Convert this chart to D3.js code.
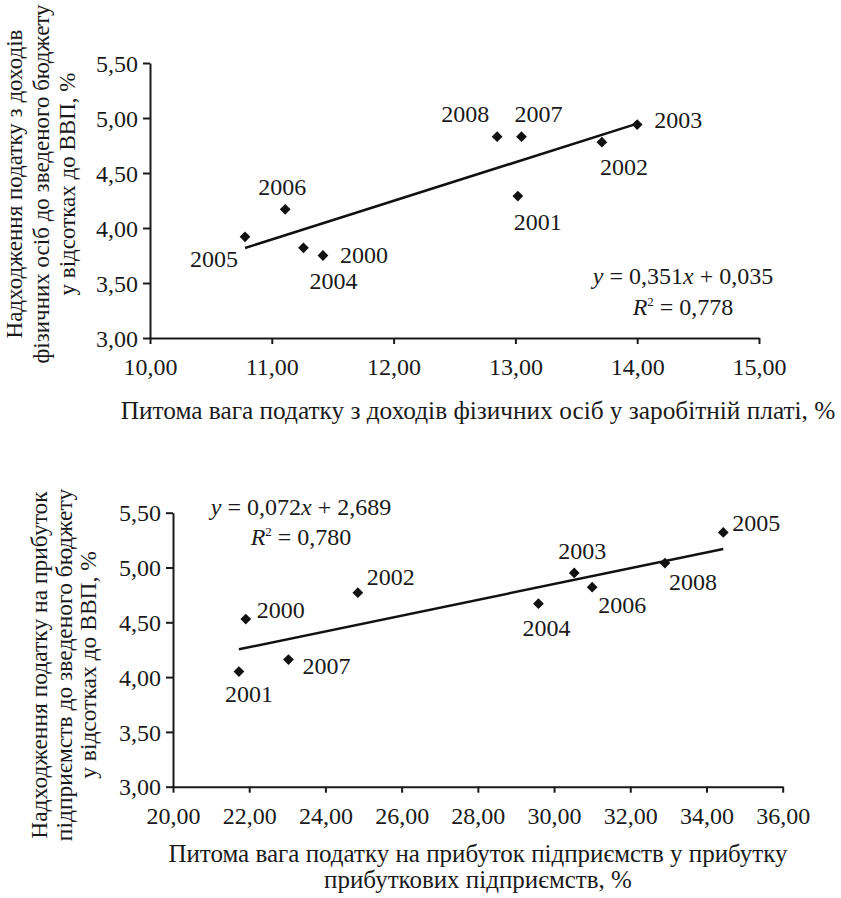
<!DOCTYPE html>
<html>
<head>
<meta charset="utf-8">
<script src="https://cdn.jsdelivr.net/npm/d3@7"></script>
<style>
  html, body { margin: 0; padding: 0; background: #fff; }
  svg { display: block; font-family: "Liberation Serif", "Times New Roman", serif; }
</style>
</head>
<body>
<svg id="chart" width="841" height="898"></svg>
<script>
// ---------- DATA ----------
// Chart 1: personal income tax
const years1 = ["2000", "2001", "2002", "2003", "2004", "2005", "2006", "2007", "2008"];
const x1 = [11.42, 13.02, 13.71, 14.00, 11.26, 10.78, 11.11, 13.05, 12.85];
const y1 = [3.75, 4.29, 4.78, 4.94, 3.82, 3.92, 4.17, 4.83, 4.83];
const xTicks1 = [10, 11, 12, 13, 14, 15];
const yTicks1 = [3.0, 3.5, 4.0, 4.5, 5.0, 5.5];
const trend1 = [0.351, 0.035]; // slope, intercept
const eq1 = ["0,351", "0,035", "0,778"];
const yTitle1 = ["Надходження податку з доходів", "фізичних осіб до зведеного бюджету", "у відсотках до ВВП, %"];
const xTitle1 = ["Питома вага податку з доходів фізичних осіб у заробітній платі, %"];

// Chart 2: enterprise profit tax
const years2 = ["2000", "2001", "2002", "2003", "2004", "2005", "2006", "2007", "2008"];
const x2 = [21.91, 21.73, 24.85, 30.53, 29.59, 34.44, 31.00, 23.03, 32.91];
const y2 = [4.53, 4.05, 4.77, 4.95, 4.67, 5.32, 4.82, 4.16, 5.04];
const xTicks2 = [20, 22, 24, 26, 28, 30, 32, 34, 36];
const yTicks2 = [3.0, 3.5, 4.0, 4.5, 5.0, 5.5];
const trend2 = [0.072, 2.689];
const eq2 = ["0,072", "2,689", "0,780"];
const yTitle2 = ["Надходження податку на прибуток", "підприємств до зведеного бюджету", "у відсотках до ВВП, %"];
const xTitle2 = ["Питома вага податку на прибуток підприємств у прибутку", "прибуткових підприємств, %"];

// ---------- LAYOUT (label placement, not data) ----------
// [anchor, dx, dy(baseline)]
const labelPos1 = [
  ["start", 17, 7], ["start", -4, 34], ["start", -2, 33], ["start", 17, 3],
  ["start", 6, 41], ["end", -7, 30], ["middle", -3, -14], ["start", -7, -15], ["end", -8, -15]
];
const labelPos2 = [
  ["start", 11, -1], ["middle", 10, 30], ["start", 9, -8], ["middle", 8, -14],
  ["middle", 8, 32], ["start", 9, -1], ["start", 6, 26], ["start", 14, 14], ["start", 4, 27]
];

const svg = d3.select("#chart");
const fmt = v => d3.format(".2f")(v).replace(".", ",");

function drawPanel(cfg) {
  const g = svg.append("g");
  const x = d3.scaleLinear().domain(cfg.xDomain).range([cfg.left, cfg.right]);
  const y = d3.scaleLinear().domain(cfg.yDomain).range([cfg.bottom, cfg.top]);

  // axes
  const yAxis = d3.axisLeft(y).tickValues(cfg.yTicks).tickFormat(fmt).tickSize(7).tickSizeOuter(0).tickPadding(5);
  const xAxis = d3.axisBottom(x).tickValues(cfg.xTicks).tickFormat(fmt).tickSize(6).tickSizeOuter(0);

  const gy = g.append("g").attr("transform", `translate(${cfg.left},0)`).call(yAxis);
  const gx = g.append("g").attr("transform", `translate(0,${cfg.bottom})`).call(xAxis);
  [gx, gy].forEach(a => {
    a.attr("font-family", null).attr("font-size", null);
    a.select(".domain").attr("stroke", "#1a1a1a").attr("stroke-width", 2);
    a.selectAll(".tick line").attr("stroke", "#1a1a1a").attr("stroke-width", 2);
    a.selectAll("text").attr("fill", "#1a1a1a").style("font-size", "24px");
  });
  gx.selectAll("text").attr("y", 37).attr("dy", null);
  gy.selectAll("text").attr("dy", "0.34em");

  // trend line
  const xs = d3.extent(cfg.xs);
  const f = v => cfg.trend[0] * v + cfg.trend[1];
  g.append("line")
    .attr("x1", x(xs[0])).attr("y1", y(f(xs[0])))
    .attr("x2", x(xs[1])).attr("y2", y(f(xs[1])))
    .attr("stroke", "#111").attr("stroke-width", 2.5);

  // points
  const sym = d3.symbol(d3.symbolSquare, 58);
  const pts = cfg.xs.map((v, i) => ({ x: v, y: cfg.ys[i], label: cfg.years[i], pos: cfg.labelPos[i] }));
  g.selectAll("path.pt").data(pts).enter().append("path")
    .attr("class", "pt")
    .attr("d", sym)
    .attr("transform", d => `translate(${x(d.x)},${y(d.y)}) rotate(45)`)
    .attr("fill", "#111");

  g.selectAll("text.lbl").data(pts).enter().append("text")
    .attr("class", "lbl")
    .attr("x", d => x(d.x) + d.pos[1])
    .attr("y", d => y(d.y) + d.pos[2])
    .attr("text-anchor", d => d.pos[0])
    .style("font-size", "24px")
    .attr("fill", "#1a1a1a")
    .text(d => d.label);

  // equation
  const eq = g.append("text").attr("text-anchor", "middle").style("font-size", "24px").attr("fill", "#1a1a1a");
  const l1 = eq.append("tspan").attr("x", cfg.eqX).attr("y", cfg.eqY);
  l1.append("tspan").style("font-style", "italic").text("y");
  l1.append("tspan").text(" = " + cfg.eq[0]);
  l1.append("tspan").style("font-style", "italic").text("x");
  l1.append("tspan").text(" + " + cfg.eq[1]);
  const eq2t = g.append("text").attr("text-anchor", "middle").style("font-size", "24px").attr("fill", "#1a1a1a")
    .attr("x", cfg.eqX).attr("y", cfg.eqY + cfg.eqGap);
  eq2t.append("tspan").style("font-style", "italic").text("R");
  eq2t.append("tspan").attr("dy", -9).style("font-size", "13px").text("2");
  eq2t.append("tspan").attr("dy", 9).text(" = " + cfg.eq[2]);

  // y title
  const yt = g.append("text")
    .attr("transform", `translate(${cfg.yTitleX},${cfg.yTitleY}) rotate(-90)`)
    .attr("text-anchor", "middle").style("font-size", cfg.yTitleSize + "px").attr("fill", "#1a1a1a");
  cfg.yTitle.forEach((t, i) => {
    yt.append("tspan").attr("x", 0).attr("y", i * cfg.titleGap).text(t);
  });

  // x title (one text element per line)
  cfg.xTitle.forEach((t, i) => {
    g.append("text").attr("text-anchor", "middle").style("font-size", cfg.xTitleSize + "px").attr("fill", "#1a1a1a")
      .attr("x", cfg.xTitleX).attr("y", cfg.xTitleY + i * cfg.xTitleGap).text(t);
  });
}

drawPanel({
  xDomain: [10, 15], yDomain: [3, 5.5],
  left: 150, right: 759, top: 63, bottom: 338,
  xTicks: xTicks1, yTicks: yTicks1,
  xs: x1, ys: y1, years: years1, labelPos: labelPos1,
  trend: trend1, eq: eq1, eqX: 683, eqY: 284, eqGap: 31,
  yTitle: yTitle1, yTitleX: 22, yTitleY: 184, titleGap: 26.5, yTitleSize: 23,
  xTitle: xTitle1, xTitleX: 478, xTitleY: 419, xTitleGap: 26, xTitleSize: 25.3
});

drawPanel({
  xDomain: [20, 36], yDomain: [3, 5.5],
  left: 173, right: 782.7, top: 512.7, bottom: 786.7,
  xTicks: xTicks2, yTicks: yTicks2,
  xs: x2, ys: y2, years: years2, labelPos: labelPos2,
  trend: trend2, eq: eq2, eqX: 301, eqY: 515, eqGap: 30,
  yTitle: yTitle2, yTitleX: 47, yTitleY: 665, titleGap: 24.5, yTitleSize: 23.5,
  xTitle: xTitle2, xTitleX: 478, xTitleY: 862, xTitleGap: 26, xTitleSize: 25
});
</script>
</body>
</html>
